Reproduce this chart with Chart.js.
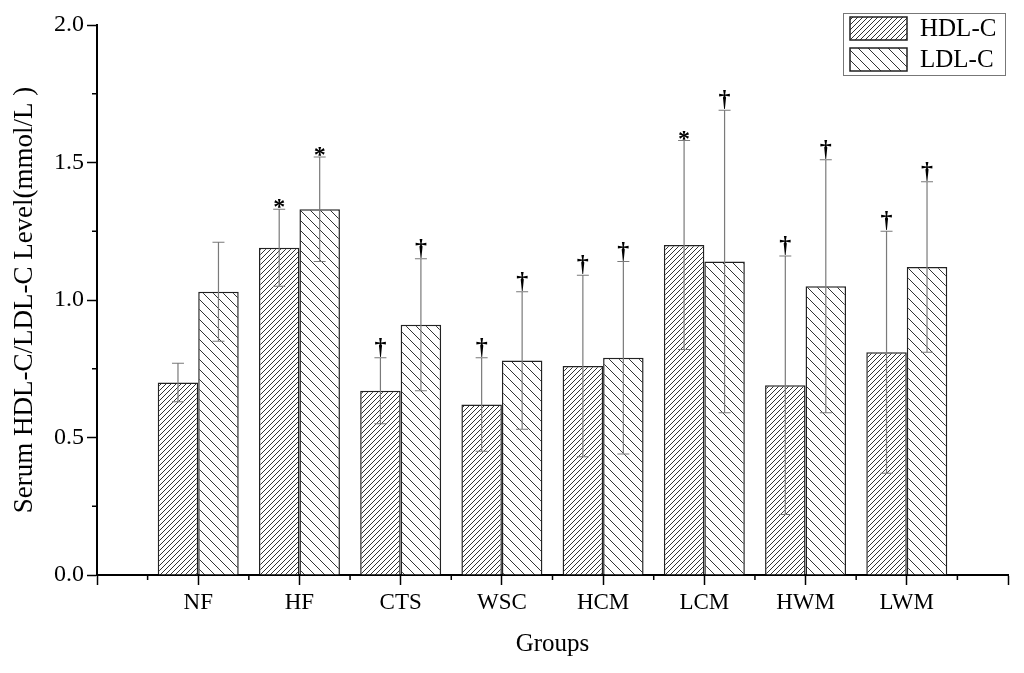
<!DOCTYPE html>
<html>
<head>
<meta charset="utf-8">
<script src="https://cdn.jsdelivr.net/npm/chart.js@4"></script>
<style>
  html, body { margin: 0; padding: 0; background: #fff; }
  #wrap { width: 1024px; height: 673px; }
</style>
</head>
<body>
<div id="wrap"><canvas id="chart"></canvas></div>
<script>
const groups = ["NF", "HF", "CTS", "WSC", "HCM", "LCM", "HWM", "LWM"];
const hdlMean = [0.70, 1.19, 0.67, 0.62, 0.76, 1.20, 0.69, 0.81];
const hdlSd = [0.07, 0.14, 0.12, 0.17, 0.33, 0.38, 0.47, 0.44];
const ldlMean = [1.03, 1.33, 0.91, 0.78, 0.79, 1.14, 1.05, 1.12];
const ldlSd = [0.18, 0.19, 0.24, 0.25, 0.35, 0.55, 0.46, 0.31];
const hdlMark = ["", "*", "†", "†", "†", "*", "†", "†"];
const ldlMark = ["", "*", "†", "†", "†", "†", "†", "†"];
const yTicks = [0, 0.5, 1.0, 1.5, 2.0];

const FONT = "'Liberation Serif', 'Times New Roman', serif";

function hatch(size, back) {
  const c = document.createElement("canvas");
  c.width = size;
  c.height = size;
  const g = c.getContext("2d");
  g.fillStyle = "#fff";
  g.fillRect(0, 0, size, size);
  g.strokeStyle = "#333";
  g.lineWidth = 1;
  g.beginPath();
  if (back) {
    g.moveTo(-1, -1); g.lineTo(size + 1, size + 1);
    g.moveTo(-1, size - 1); g.lineTo(1, size + 1);
    g.moveTo(size - 1, -1); g.lineTo(size + 1, 1);
  } else {
    g.moveTo(-1, size + 1); g.lineTo(size + 1, -1);
    g.moveTo(-1, 1); g.lineTo(1, -1);
    g.moveTo(size - 1, size + 1); g.lineTo(size + 1, size - 1);
  }
  g.stroke();
  return g.createPattern(c, "repeat");
}

const ctx = document.getElementById("chart").getContext("2d");
const hdlFill = hatch(5, false);
const ldlFill = hatch(10, true);

const toPoints = (arr) => arr.map((v, i) => ({ x: i + 1, y: v }));

// error bars, significance marks, minor ticks and the boxed legend
const extras = {
  id: "extras",
  afterDatasetsDraw(chart) {
    const c = chart.ctx;
    const xs = chart.scales.x;
    const ys = chart.scales.y;
    const sets = [
      { sd: hdlSd, mark: hdlMark },
      { sd: ldlSd, mark: ldlMark },
    ];
    c.save();
    sets.forEach((s, di) => {
      const meta = chart.getDatasetMeta(di);
      meta.data.forEach((bar, i) => {
        const v = chart.data.datasets[di].data[i].y;
        const top = ys.getPixelForValue(v + s.sd[i]);
        const bot = ys.getPixelForValue(v - s.sd[i]);
        const x = bar.x;
        c.strokeStyle = "#7a7a7a";
        c.lineWidth = 1.2;
        c.beginPath();
        c.moveTo(x, top); c.lineTo(x, bot);
        c.moveTo(x - 6, top); c.lineTo(x + 6, top);
        c.moveTo(x - 6, bot); c.lineTo(x + 6, bot);
        c.stroke();
        if (s.mark[i]) {
          c.fillStyle = "#000";
          c.font = "bold 24px " + FONT;
          c.textAlign = "center";
          c.textBaseline = "alphabetic";
          c.fillText(s.mark[i], x, top + (s.mark[i] === "*" ? 5 : -4));
        }
      });
    });

    // minor ticks
    c.strokeStyle = "#000";
    c.lineWidth = 1.5;
    c.beginPath();
    for (let k = 0; k < 9; k++) {
      const px = xs.getPixelForValue(k + 0.5);
      c.moveTo(px, xs.top); c.lineTo(px, xs.top + 5);
    }
    for (let k = 0; k < 4; k++) {
      const py = ys.getPixelForValue(0.25 + k * 0.5);
      c.moveTo(ys.right, py); c.lineTo(ys.right - 5, py);
    }
    c.stroke();

    // legend
    c.strokeStyle = "#777";
    c.lineWidth = 1;
    c.strokeRect(843.5, 13.5, 162, 62);
    const items = [
      { label: "HDL-C", fill: hdlFill, y: 17 },
      { label: "LDL-C", fill: ldlFill, y: 48 },
    ];
    items.forEach((it) => {
      c.fillStyle = it.fill;
      c.fillRect(850, it.y, 57, 23);
      c.strokeStyle = "#222";
      c.lineWidth = 1.5;
      c.strokeRect(850, it.y, 57, 23);
      c.fillStyle = "#000";
      c.font = "25px " + FONT;
      c.textAlign = "left";
      c.textBaseline = "middle";
      c.fillText(it.label, 920, it.y + 12);
    });
    c.restore();
  },
};

new Chart(ctx, {
  type: "bar",
  data: {
    datasets: [
      {
        label: "HDL-C",
        data: toPoints(hdlMean),
        backgroundColor: hdlFill,
        borderColor: "#222",
        borderWidth: 1.5,
        borderSkipped: "bottom",
        categoryPercentage: 0.8,
        barPercentage: 1.0,
      },
      {
        label: "LDL-C",
        data: toPoints(ldlMean),
        backgroundColor: ldlFill,
        borderColor: "#222",
        borderWidth: 1.5,
        borderSkipped: "bottom",
        categoryPercentage: 0.8,
        barPercentage: 1.0,
      },
    ],
  },
  options: {
    responsive: true,
    maintainAspectRatio: false,
    animation: false,
    layout: { padding: { top: 25, right: 16, left: 0, bottom: 0 } },
    plugins: {
      legend: { display: false },
      tooltip: { enabled: false },
    },
    scales: {
      x: {
        type: "linear",
        min: 0,
        max: 9,
        offset: false,
        afterFit: (s) => { s.height = 98; },
        afterBuildTicks: (s) => {
          s.ticks = Array.from({ length: 10 }, (_, k) => ({ value: k }));
        },
        ticks: {
          autoSkip: false,
          maxRotation: 0,
          padding: 4,
          color: "#000",
          font: { family: FONT, size: 23 },
          callback: (v) => groups[v - 1] || "",
        },
        grid: {
          offset: false,
          drawOnChartArea: false,
          drawTicks: true,
          tickLength: 10,
          tickColor: "#000",
          tickWidth: 1.5,
        },
        border: { display: true, color: "#000", width: 2 },
        title: {
          display: true,
          text: "Groups",
          color: "#000",
          font: { family: FONT, size: 25 },
          padding: { top: 0, bottom: 14 },
        },
      },
      y: {
        min: 0,
        max: 2.0,
        afterFit: (s) => { s.width = 97; },
        afterBuildTicks: (s) => {
          s.ticks = yTicks.map((v) => ({ value: v }));
        },
        ticks: {
          padding: 3,
          color: "#000",
          font: { family: FONT, size: 24 },
          callback: (v) => v.toFixed(1),
        },
        grid: {
          drawOnChartArea: false,
          drawTicks: true,
          tickLength: 10,
          tickColor: "#000",
          tickWidth: 1.5,
        },
        border: { display: true, color: "#000", width: 2 },
        title: {
          display: true,
          text: "Serum HDL-C/LDL-C Level(mmol/L )",
          color: "#000",
          font: { family: FONT, size: 27 },
          padding: { top: 9, bottom: 0 },
        },
      },
    },
  },
  plugins: [extras],
});
</script>
</body>
</html>
